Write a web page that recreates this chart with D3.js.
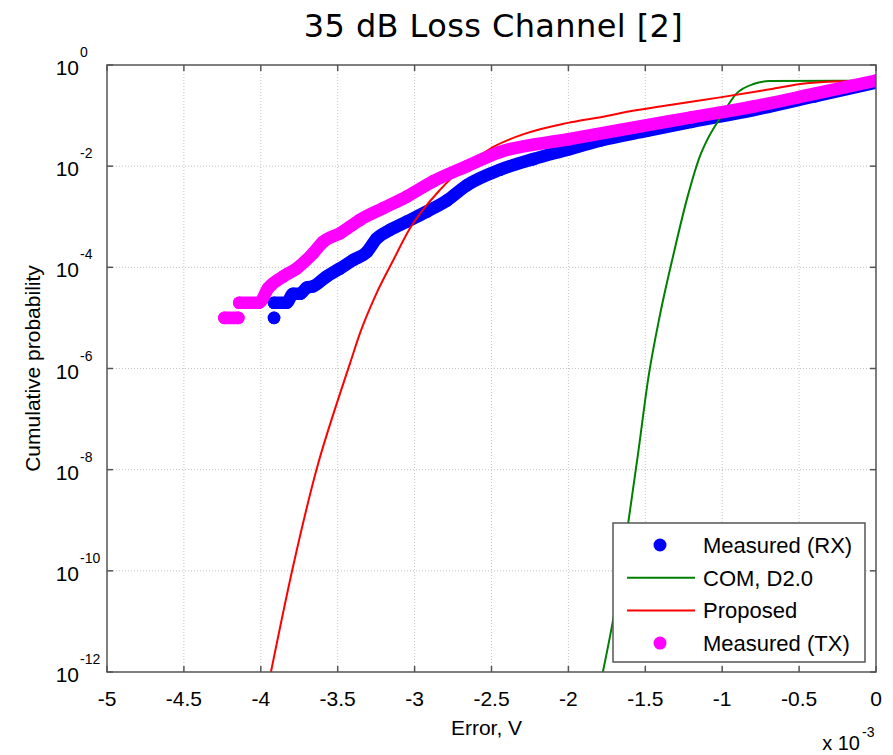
<!DOCTYPE html>
<html>
<head>
<meta charset="utf-8">
<script src="https://cdn.jsdelivr.net/npm/d3@7"></script>
<style>
  body { margin: 0; background: #fff; }
  svg { display: block; }
</style>
</head>
<body>
<svg id="canvas" width="893" height="755"></svg>
<script>
const rxLow = [[-3.914, 1e-5]]
const rxPoints = [
  [-3.914, 2e-5], [-3.832, 2e-5], [-3.79, 3e-5], [-3.745, 3e-5], [-3.70, 4e-5],
  [-3.66, 4.2e-5], [-3.572, 6.6e-5], [-3.485, 9.5e-5], [-3.399, 1.4e-4],
  [-3.311, 2.0e-4], [-3.247, 3.7e-4], [-3.16, 5.5e-4], [-3.051, 8.0e-4],
  [-2.922, 1.26e-3], [-2.79, 2.1e-3], [-2.66, 4.2e-3], [-2.445, 8.5e-3],
  [-2.228, 1.38e-2], [-2.011, 2.1e-2], [-1.795, 3.2e-2], [-1.49, 5.0e-2],
  [-1.2, 7.5e-2], [-0.797, 0.129], [-0.4, 0.24], [0, 0.45]
]
const txLow = [[-4.237, 1e-5], [-4.146, 1e-5]]
const txPoints = [
  [-4.14, 2e-5], [-4.012, 2e-5], [-3.951, 3.9e-5], [-3.854, 6.6e-5],
  [-3.767, 9.5e-5], [-3.66, 1.9e-4], [-3.594, 3.2e-4], [-3.485, 4.7e-4],
  [-3.355, 8.7e-4], [-3.204, 1.48e-3], [-3.051, 2.5e-3], [-2.88, 5.0e-3],
  [-2.66, 1.0e-2], [-2.445, 1.9e-2], [-2.0, 3.4e-2], [-1.665, 5.2e-2],
  [-1.2, 9.2e-2], [-0.797, 0.151], [-0.4, 0.27], [0, 0.49]
]
const comCurve = [
  [-1.776, 1e-12], [-1.686, 2.7e-11], [-1.61, 9.3e-10], [-1.545, 2.3e-8],
  [-1.48, 6.6e-7], [-1.404, 1.17e-5], [-1.318, 1.74e-4], [-1.225, 2.5e-3],
  [-1.144, 1.6e-2], [-1.1, 3.2e-2], [-1.014, 8.9e-2], [-0.906, 0.275],
  [-0.797, 0.42], [-0.69, 0.48], [-0.25, 0.49], [0, 0.49]
]
const proposedCurve = [
  [-3.934, 1e-12], [-3.795, 1.05e-10], [-3.626, 1.35e-8], [-3.507, 2.0e-7],
  [-3.42, 1.26e-6], [-3.355, 5.0e-6], [-3.247, 3.1e-5], [-3.138, 1.4e-4],
  [-3.03, 5.9e-4], [-2.835, 3.4e-3], [-2.661, 1.05e-2], [-2.488, 2.4e-2],
  [-2.271, 4.5e-2], [-2.011, 7.1e-2], [-1.751, 9.8e-2], [-1.665, 0.111],
  [-1.34, 0.162], [-1.014, 0.229], [-0.69, 0.331], [-0.45, 0.437], [0, 0.50]
]
const xTicks = [-5, -4.5, -4, -3.5, -3, -2.5, -2, -1.5, -1, -0.5, 0]
const yTickExps = [0, -2, -4, -6, -8, -10, -12]
const legendItems = [
  {label: 'Measured (RX)', color: '#0000ff', kind: 'dot'},
  {label: 'COM, D2.0', color: '#008000', kind: 'line'},
  {label: 'Proposed', color: '#ff0000', kind: 'line'},
  {label: 'Measured (TX)', color: '#ff00ff', kind: 'dot'}
]

const margin = {top: 65, left: 107, right: 17, bottom: 83}
const W = 893, H = 755
const innerW = W - margin.left - margin.right
const innerH = H - margin.top - margin.bottom
const dotR = 6.3
const font = '"Liberation Sans", Arial, sans-serif'

const svg = d3.select('#canvas')
const x = d3.scaleLinear().domain([-5, 0]).range([margin.left, margin.left + innerW])
const y = d3.scaleLog().domain([1e-12, 1]).range([margin.top + innerH, margin.top])

// grid
const grid = svg.append('g').attr('stroke', '#c4c4c4').attr('stroke-width', 1)
  .attr('stroke-dasharray', '1,2')
grid.selectAll('.vx').data(xTicks.slice(1, -1)).enter().append('line')
  .attr('x1', d => x(d)).attr('x2', d => x(d))
  .attr('y1', margin.top).attr('y2', margin.top + innerH)
grid.selectAll('.hy').data(yTickExps.slice(1, -1)).enter().append('line')
  .attr('x1', margin.left).attr('x2', margin.left + innerW)
  .attr('y1', d => y(Math.pow(10, d))).attr('y2', d => y(Math.pow(10, d)))

// clip for data
svg.append('clipPath').attr('id', 'plotclip').append('rect')
  .attr('x', margin.left).attr('y', margin.top).attr('width', innerW).attr('height', innerH)
const plot = svg.append('g').attr('clip-path', 'url(#plotclip)')

const smooth = d3.line().x(d => x(d[0])).y(d => y(d[1])).curve(d3.curveMonotoneX)

const drawDots = (pts, color) => {
  plot.append('path').datum(pts)
    .attr('d', smooth)
    .attr('fill', 'none').attr('stroke', color)
    .attr('stroke-width', dotR * 2)
    .attr('stroke-linecap', 'round').attr('stroke-linejoin', 'round')
  plot.append('g').selectAll('circle').data(pts).enter().append('circle')
    .attr('cx', d => x(d[0])).attr('cy', d => y(d[1]))
    .attr('r', dotR).attr('fill', color)
}

drawDots(rxLow, '#0000ff')
drawDots(rxPoints, '#0000ff')
plot.append('path').datum(comCurve).attr('d', smooth)
  .attr('fill', 'none').attr('stroke', '#008000').attr('stroke-width', 2)
plot.append('path').datum(proposedCurve).attr('d', smooth)
  .attr('fill', 'none').attr('stroke', '#ff0000').attr('stroke-width', 2)
drawDots(txLow, '#ff00ff')
drawDots(txPoints, '#ff00ff')

// frame and ticks
const axisColor = '#555'
const tickLen = 6
const axes = svg.append('g').attr('stroke', axisColor).attr('stroke-width', 1.5)
axes.append('rect').attr('x', margin.left).attr('y', margin.top)
  .attr('width', innerW).attr('height', innerH).attr('fill', 'none')
xTicks.forEach(t => {
  axes.append('line').attr('x1', x(t)).attr('x2', x(t))
    .attr('y1', margin.top + innerH).attr('y2', margin.top + innerH - tickLen)
  axes.append('line').attr('x1', x(t)).attr('x2', x(t))
    .attr('y1', margin.top).attr('y2', margin.top + tickLen)
})
yTickExps.forEach(e => {
  const yy = y(Math.pow(10, e))
  axes.append('line').attr('x1', margin.left).attr('x2', margin.left + tickLen)
    .attr('y1', yy).attr('y2', yy)
  axes.append('line').attr('x1', margin.left + innerW).attr('x2', margin.left + innerW - tickLen)
    .attr('y1', yy).attr('y2', yy)
})

// tick labels
svg.append('g').selectAll('text').data(xTicks).enter().append('text')
  .attr('x', d => x(d)).attr('y', margin.top + innerH + 34)
  .attr('text-anchor', 'middle')
  .style('font', `21px ${font}`).attr('fill', '#000')
  .text(d => String(d))

const yl = svg.append('g')
yTickExps.forEach(e => {
  const yy = y(Math.pow(10, e))
  yl.append('text').attr('x', 79).attr('y', yy + 10).attr('text-anchor', 'end')
    .style('font', `21px ${font}`).text('10')
  yl.append('text').attr('x', 80).attr('y', yy - 8).attr('text-anchor', 'start')
    .style('font', `14px ${font}`).text(String(e))
})

// multiplier
svg.append('text').attr('x', 860).attr('y', 750).attr('text-anchor', 'end')
  .style('font', `20px ${font}`).text('x 10')
svg.append('text').attr('x', 862).attr('y', 737)
  .style('font', `14px ${font}`).text('-3')

// axis labels
svg.append('text').attr('x', margin.left + innerW / 2 - 5).attr('y', 735)
  .attr('text-anchor', 'middle').style('font', `21px ${font}`).text('Error, V')
svg.append('text')
  .attr('transform', `translate(40, ${margin.top + innerH / 2}) rotate(-90)`)
  .attr('text-anchor', 'middle').style('font', `21px ${font}`).text('Cumulative probability')

// title
svg.append('text').attr('x', margin.left + innerW / 2 + 2).attr('y', 37)
  .attr('text-anchor', 'middle').style('font', `32px "DejaVu Sans", Verdana, sans-serif`)
  .style('letter-spacing', '0.4px')
  .text('35 dB Loss Channel [2]')

// legend
const lg = svg.append('g').attr('transform', 'translate(613, 523)')
lg.append('rect').attr('width', 252).attr('height', 139)
  .attr('fill', '#fff').attr('stroke', axisColor).attr('stroke-width', 1.5)
legendItems.forEach((item, i) => {
  const cy = 22 + i * 32.7
  if (item.kind === 'dot') {
    lg.append('circle').attr('cx', 47).attr('cy', cy).attr('r', 6.5).attr('fill', item.color)
  } else {
    lg.append('line').attr('x1', 14).attr('x2', 82).attr('y1', cy).attr('y2', cy)
      .attr('stroke', item.color).attr('stroke-width', 2)
  }
  lg.append('text').attr('x', 90).attr('y', cy + 8)
    .style('font', `22px ${font}`).text(item.label)
})
</script>
</body>
</html>
